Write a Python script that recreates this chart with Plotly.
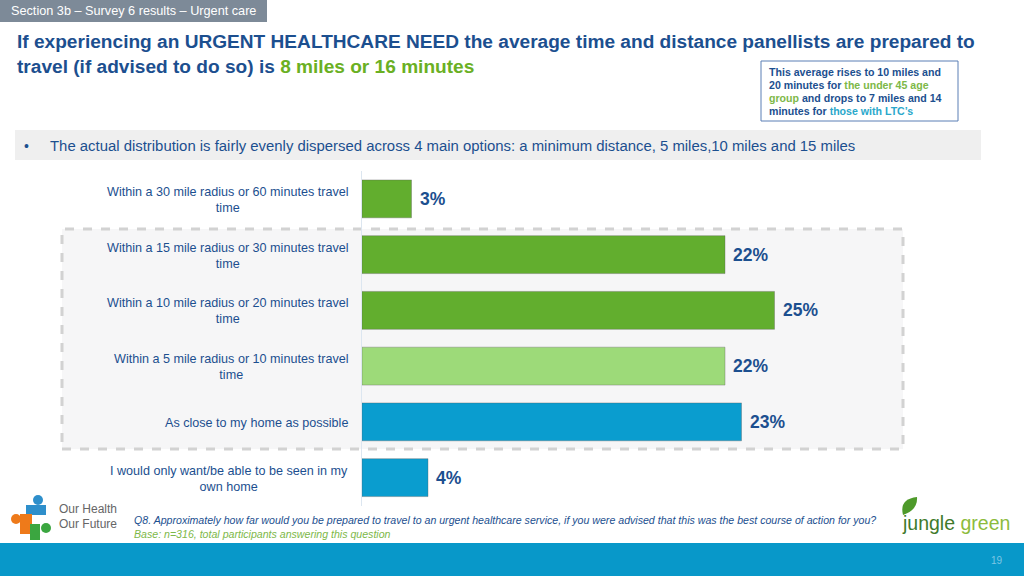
import plotly.graph_objects as go

# ---------------- data ----------------
categories = [
    "Within a 30 mile radius or 60 minutes travel<br>time",
    "Within a 15 mile radius or 30 minutes travel<br>time",
    "Within a 10 mile radius or 20 minutes travel<br>time",
    "Within a 5 mile radius or 10 minutes travel<br>time",
    "As close to my home as possible",
    "I would only want/be able to be seen in my<br>own home",
]
values = [3, 22, 25, 22, 23, 4]
bar_colors = ["#62AE2E", "#62AE2E", "#62AE2E", "#9DDA79", "#0A9DCF", "#0A9DCF"]

W, H = 1024, 576
FONT = "Arial, Liberation Sans, sans-serif"
BLUE = "#1C4F8F"
GREEN = "#6AB023"


def px(x):
    return x / W


def py(y):
    return 1 - y / H


fig = go.Figure()
fig.add_trace(go.Bar(
    y=categories, x=values, orientation="h",
    marker=dict(color=bar_colors, line=dict(color="rgba(90,90,90,0.35)", width=1)),
    width=0.68, hoverinfo="skip",
))

shapes = []
annotations = []

# dashed highlight box behind middle bars
shapes.append(dict(type="rect", xref="paper", yref="paper", layer="below",
                   x0=px(62), x1=px(903), y0=py(449), y1=py(229),
                   fillcolor="#F6F6F7", line=dict(color="#D2D2D2", width=3, dash="dash")))

# header tab
shapes.append(dict(type="rect", xref="paper", yref="paper", x0=0, x1=px(267), y0=py(22), y1=1,
                   fillcolor="#7D8A98", line=dict(width=0)))
annotations.append(dict(xref="paper", yref="paper", x=px(9), y=py(11), xanchor="left", yanchor="middle",
                        text="Section 3b – Survey 6 results – Urgent care", showarrow=False,
                        font=dict(family=FONT, size=12.7, color="white")))

# title
annotations.append(dict(xref="paper", yref="paper", x=px(15), y=py(42), xanchor="left", yanchor="middle",
                        text="<b>If experiencing an URGENT HEALTHCARE NEED the average time and distance panellists are prepared to</b>",
                        showarrow=False, font=dict(family=FONT, size=19.1, color=BLUE)))
annotations.append(dict(xref="paper", yref="paper", x=px(15), y=py(66), xanchor="left", yanchor="middle",
                        text="<b>travel (if advised to do so) is <span style='color:%s'>8 miles or 16 minutes</span></b>" % GREEN,
                        showarrow=False, font=dict(family=FONT, size=19.1, color=BLUE)))

# callout box
shapes.append(dict(type="rect", xref="paper", yref="paper", x0=px(761), x1=px(958), y0=py(121), y1=py(61),
                   fillcolor="white", line=dict(color="#5B7FB5", width=1)))
callout_lines = [
    "This average rises to 10 miles and",
    "20 minutes for <span style='color:#7DB848'>the under 45 age</span>",
    "<span style='color:#7DB848'>group</span> and drops to 7 miles and 14",
    "minutes for <span style='color:#2AA8CB'>those with LTC’s</span>",
]
for i, ln in enumerate(callout_lines):
    annotations.append(dict(xref="paper", yref="paper", x=px(767), y=py(72 + 13 * i), xanchor="left",
                            yanchor="middle", text="<b>%s</b>" % ln, showarrow=False,
                            font=dict(family=FONT, size=10.6, color=BLUE)))

# bullet band
shapes.append(dict(type="rect", xref="paper", yref="paper", x0=px(15), x1=px(981), y0=py(160), y1=py(130),
                   fillcolor="#EFEFEF", line=dict(width=0)))
annotations.append(dict(xref="paper", yref="paper", x=px(22), y=py(146), xanchor="left", yanchor="middle",
                        text="•", showarrow=False, font=dict(family=FONT, size=14, color=BLUE)))
annotations.append(dict(xref="paper", yref="paper", x=px(48), y=py(146), xanchor="left", yanchor="middle",
                        text="The actual distribution is fairly evenly dispersed across 4 main options: a minimum distance, 5 miles,10 miles and 15 miles",
                        showarrow=False, font=dict(family=FONT, size=14.9, color=BLUE)))

# category labels
for c in categories:
    annotations.append(dict(xref="paper", yref="y", x=px(350), y=c, xanchor="right", yanchor="middle",
                            align="center", text=c, showarrow=False, yshift=-1,
                            font=dict(family=FONT, size=12.6, color=BLUE)))

# value labels
for c, v in zip(categories, values):
    annotations.append(dict(xref="x", yref="y", x=v, y=c, xanchor="left", yanchor="middle", xshift=6,
                            text="<b>%d%%</b>" % v, showarrow=False,
                            font=dict(family=FONT, size=17.5, color=BLUE)))

# footer
annotations.append(dict(xref="paper", yref="paper", x=px(132), y=py(520), xanchor="left", yanchor="middle",
                        text="<i>Q8. Approximately how far would you be prepared to travel to an urgent healthcare service, if you were advised that this was the best course of action for you?</i>",
                        showarrow=False, font=dict(family=FONT, size=10.6, color=BLUE)))
annotations.append(dict(xref="paper", yref="paper", x=px(132), y=py(534), xanchor="left", yanchor="middle",
                        text="<i>Base: n=316, total participants answering this question</i>",
                        showarrow=False, font=dict(family=FONT, size=10.6, color="#7DB848")))
shapes.append(dict(type="rect", xref="paper", yref="paper", x0=0, x1=1, y0=0, y1=py(543),
                   fillcolor="#0898C9", line=dict(width=0)))
annotations.append(dict(xref="paper", yref="paper", x=px(997), y=py(560), xanchor="center", yanchor="middle",
                        text="19", showarrow=False, font=dict(family=FONT, size=10, color="#7CC6E4")))

# Our Health Our Future logo (simplified)
for (cx, cy, r, col) in [(38, 500, 5, "#2E8FCB"), (16, 519, 5, "#EE7A1A"), (46, 528, 5, "#3BA640")]:
    shapes.append(dict(type="circle", xref="paper", yref="paper", x0=px(cx - r), x1=px(cx + r),
                       y0=py(cy + r), y1=py(cy - r), fillcolor=col, line=dict(width=0)))
for (x0, y0, x1, y1, col) in [(26, 505, 46, 515, "#2E8FCB"), (20, 514, 32, 534, "#EE7A1A"), (30, 524, 40, 540, "#3BA640")]:
    shapes.append(dict(type="rect", xref="paper", yref="paper", x0=px(x0), x1=px(x1),
                       y0=py(y1), y1=py(y0), fillcolor=col, line=dict(width=0)))
annotations.append(dict(xref="paper", yref="paper", x=px(57), y=py(509), xanchor="left", yanchor="middle",
                        text="Our Health", showarrow=False, font=dict(family=FONT, size=12, color="#666666")))
annotations.append(dict(xref="paper", yref="paper", x=px(57), y=py(524), xanchor="left", yanchor="middle",
                        text="Our Future", showarrow=False, font=dict(family=FONT, size=12, color="#666666")))

# jungle green logo (simplified)
shapes.append(dict(type="path", xref="paper", yref="paper",
                   path="M %f %f Q %f %f %f %f Q %f %f %f %f Z" % (
                       px(903), py(515), px(899), py(499), px(917), py(497),
                       px(918), py(510), px(903), py(515)),
                   fillcolor="#4E9A2A", line=dict(width=0)))
annotations.append(dict(xref="paper", yref="paper", x=px(900), y=py(523), xanchor="left", yanchor="middle",
                        text="<span style='color:#3F7A2B'>jungle</span> <span style='color:#8CBB3C'>green</span>",
                        showarrow=False, font=dict(family=FONT, size=19.5)))

fig.update_layout(
    width=W, height=H,
    margin=dict(l=0, r=0, t=0, b=0),
    paper_bgcolor="white", plot_bgcolor="rgba(0,0,0,0)",
    showlegend=False,
    shapes=shapes, annotations=annotations,
    xaxis=dict(domain=[px(362), 1], range=[0, (W - 362) / 16.5], visible=False, fixedrange=True),
    yaxis=dict(domain=[py(505.5), py(171)], autorange="reversed", showticklabels=False,
               showgrid=False, zeroline=False, showline=True, linecolor="#DCE6F0", linewidth=1,
               ticks="", fixedrange=True),
    bargap=0.32,
)

fig.write_html("out.html", config={"displayModeBar": False},
               post_script="document.body.style.margin='0';document.body.style.overflow='hidden';")
